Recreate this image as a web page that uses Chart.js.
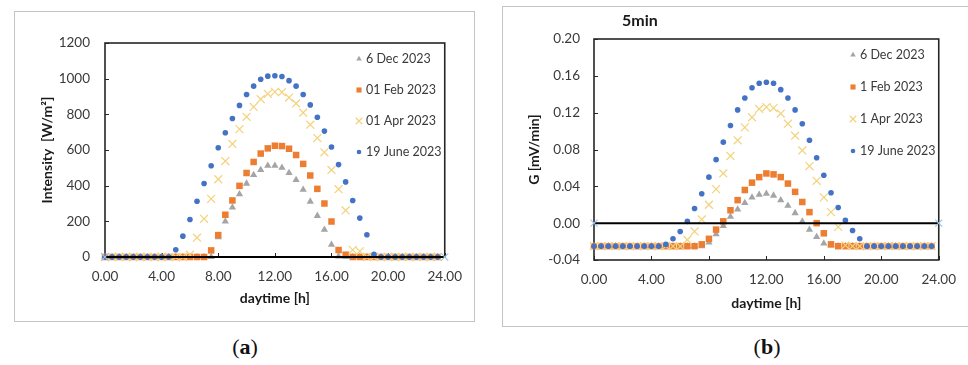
<!DOCTYPE html>
<html>
<head>
<meta charset="utf-8">
<script src="https://cdn.jsdelivr.net/npm/chart.js@4.4.0/dist/chart.umd.min.js"></script>
<style>
  body { margin: 0; width: 968px; height: 365px; background: #fff; position: relative; overflow: hidden; }
  .box { position: absolute; border: 1px solid #c4c4c4; background: #fff; }
  #boxA { left: 14px; top: 11px; width: 459px; height: 309px; }
  #boxB { left: 502px; top: 6px; width: 470px; height: 319px; }
  .cap { position: absolute; top: 334px; width: 80px; text-align: center; line-height: 28px;
         font: 22px "Liberation Serif", serif; color: #111; }
</style>
</head>
<body>
<div class="box" id="boxA"><canvas id="chartIntensity" width="459" height="309"></canvas></div>
<div class="box" id="boxB"><canvas id="chartG" width="465" height="319"></canvas></div>
<div class="cap" style="left:205px">(<b>a</b>)</div>
<div class="cap" style="left:727px">(<b>b</b>)</div>

<script>
// half-hour readings over the day
const hours = [
    0, 0.5, 1, 1.5, 2, 2.5, 3, 3.5, 4, 4.5, 5, 5.5,
    6, 6.5, 7, 7.5, 8, 8.5, 9, 9.5, 10, 10.5, 11, 11.5,
    12, 12.5, 13, 13.5, 14, 14.5, 15, 15.5, 16, 16.5, 17, 17.5,
    18, 18.5, 19, 19.5, 20, 20.5, 21, 21.5, 22, 22.5, 23, 23.5
];

const seriesNamesA = ['6 Dec 2023', '01 Feb 2023', '01 Apr 2023', '19 June 2023'];
const seriesNamesB = ['6 Dec 2023', '1 Feb 2023', '1 Apr 2023', '19 June 2023'];

// irradiance [W/m2]
const intensityDec = [
    0, 0, 0, 0, 0, 0, 0, 0, 0, 0, 0, 0,
    0, 0, 0, 0, 112, 199, 278, 352, 412, 460, 488, 512,
    512, 501, 471, 432, 378, 311, 231, 153, 69, 4, 0, 0,
    0, 0, 0, 0, 0, 0, 0, 0, 0, 0, 0, 0
];
const intensityFeb = [
    0, 0, 0, 0, 0, 0, 0, 0, 0, 0, 0, 0,
    0, 0, 0, 37, 123, 237, 317, 399, 471, 533, 580, 609,
    624, 622, 607, 572, 522, 457, 382, 300, 199, 39, 13, 0,
    0, 0, 0, 0, 0, 0, 0, 0, 0, 0, 0, 0
];
const intensityApr = [
    0, 0, 0, 0, 0, 0, 0, 0, 0, 0, 0, 0,
    13, 108, 214, 326, 436, 538, 634, 717, 786, 842, 885, 915,
    926, 924, 894, 861, 809, 742, 667, 587, 488, 380, 261, 40,
    32, 0, 0, 0, 0, 0, 0, 0, 0, 0, 0, 0
];
const intensityJune = [
    0, 0, 0, 0, 0, 0, 0, 0, 0, 0, 41, 117,
    210, 313, 412, 512, 613, 697, 777, 850, 911, 958, 997, 1014,
    1016, 1012, 989, 958, 911, 853, 784, 706, 617, 518, 421, 317,
    218, 125, 15, 0, 0, 0, 0, 0, 0, 0, 0, 0
];

// sensor gradient G [mV/min], 5 min window
const gDec = [
    -0.025, -0.025, -0.025, -0.025, -0.025, -0.025, -0.025, -0.025, -0.025, -0.025, -0.025, -0.025,
    -0.025, -0.025, -0.025, -0.025, -0.021, -0.012, -0.003, 0.007, 0.015, 0.022, 0.028, 0.031,
    0.032, 0.030, 0.025, 0.019, 0.011, 0.002, -0.007, -0.015, -0.022, -0.024, -0.025, -0.025,
    -0.025, -0.025, -0.025, -0.025, -0.025, -0.025, -0.025, -0.025, -0.025, -0.025, -0.025, -0.025
];
const gFeb = [
    -0.025, -0.025, -0.025, -0.025, -0.025, -0.025, -0.025, -0.025, -0.025, -0.025, -0.025, -0.025,
    -0.025, -0.025, -0.025, -0.023, -0.017, -0.007, 0.002, 0.014, 0.025, 0.036, 0.044, 0.050,
    0.054, 0.053, 0.050, 0.043, 0.034, 0.023, 0.012, 0.000, -0.011, -0.023, -0.025, -0.025,
    -0.025, -0.025, -0.025, -0.025, -0.025, -0.025, -0.025, -0.025, -0.025, -0.025, -0.025, -0.025
];
const gApr = [
    -0.025, -0.025, -0.025, -0.025, -0.025, -0.025, -0.025, -0.025, -0.025, -0.025, -0.025, -0.025,
    -0.025, -0.018, -0.009, 0.004, 0.020, 0.037, 0.054, 0.073, 0.090, 0.104, 0.115, 0.124,
    0.126, 0.125, 0.119, 0.108, 0.095, 0.079, 0.062, 0.046, 0.028, 0.012, -0.004, -0.024,
    -0.025, -0.025, -0.025, -0.025, -0.025, -0.025, -0.025, -0.025, -0.025, -0.025, -0.025, -0.025
];
const gJune = [
    -0.025, -0.025, -0.025, -0.025, -0.025, -0.025, -0.025, -0.025, -0.025, -0.025, -0.023, -0.017,
    -0.009, 0.002, 0.016, 0.032, 0.050, 0.069, 0.088, 0.106, 0.123, 0.136, 0.147, 0.152,
    0.153, 0.152, 0.145, 0.136, 0.123, 0.108, 0.090, 0.071, 0.052, 0.033, 0.017, 0.003,
    -0.008, -0.017, -0.025, -0.025, -0.025, -0.025, -0.025, -0.025, -0.025, -0.025, -0.025, -0.025
];

// zero reference line across the day
const zeroX = [0, 24];
const zeroY = [0, 0];

const xTicks = [0, 4, 8, 12, 16, 20, 24];
const yTicksA = [0, 200, 400, 600, 800, 1000, 1200];
const yTicksB = [-0.04, 0, 0.04, 0.08, 0.12, 0.16, 0.20];

const textColor = '#3a3a3a';
const family = 'Lato, "Open Sans", sans-serif';

const styles = [
    { pointStyle: 'triangle', color: '#a5a5a5', radius: 4.2, legendRadius: 3.2, order: 4 },
    { pointStyle: 'rect', color: '#ed7d31', radius: 4.6, legendRadius: 3.6, order: 3 },
    { pointStyle: 'crossRot', color: '#f3d27c', radius: 5.6, legendRadius: 4.6, order: 2 },
    { pointStyle: 'circle', color: '#4472c4', radius: 2.8, legendRadius: 2.3, order: 1 }
];

function pts(ys) {
    return ys.map((v, i) => ({ x: hours[i], y: v }));
}

function buildSets(names, values) {
    const sets = names.map((name, i) => {
        const s = styles[i];
        const cross = s.pointStyle === 'crossRot';
        return {
            label: name,
            data: pts(values[i]),
            pointStyle: s.pointStyle,
            pointRadius: s.radius,
            backgroundColor: s.color,
            borderColor: s.color,
            pointBorderWidth: cross ? 1.2 : 0,
            showLine: false,
            order: s.order,
            clip: false,
            inLegend: true,
            legendRadius: s.legendRadius
        };
    });
    sets.push({
        label: 'zero',
        data: zeroX.map((x, i) => ({ x: x, y: zeroY[i] })),
        showLine: true,
        borderColor: '#000',
        borderWidth: 2,
        pointStyle: 'crossRot',
        pointRadius: 5,
        pointBorderWidth: 1.1,
        pointBorderColor: '#9dc3e6',
        pointBackgroundColor: '#9dc3e6',
        order: 0,
        clip: false
    });
    return sets;
}

// plot frame, inward tick marks, in-plot legend and optional heading
function decorations(legendX, legendY, rowGap, heading) {
    return {
        id: 'decorations',
        beforeDatasetsDraw(chart) {
            const { ctx, chartArea: a, scales: { x, y } } = chart;
            ctx.save();
            ctx.strokeStyle = '#262626';
            ctx.lineWidth = 1.6;
            ctx.strokeRect(a.left, a.top, a.width, a.height);
            ctx.lineWidth = 1;
            ctx.beginPath();
            x.ticks.forEach(t => {
                const px = Math.round(x.getPixelForValue(t.value)) + 0.5;
                ctx.moveTo(px, a.bottom);
                ctx.lineTo(px, a.bottom - 4);
            });
            y.ticks.forEach(t => {
                const py = Math.round(y.getPixelForValue(t.value)) + 0.5;
                ctx.moveTo(a.left, py);
                ctx.lineTo(a.left + 4, py);
            });
            ctx.stroke();
            ctx.restore();
        },
        afterDraw(chart) {
            const ctx = chart.ctx;
            ctx.save();
            chart.data.datasets.filter(d => d.inLegend).forEach((d, i) => {
                const yy = legendY + i * rowGap;
                ctx.fillStyle = d.backgroundColor;
                ctx.strokeStyle = d.borderColor;
                ctx.lineWidth = d.pointBorderWidth || 1;
                Chart.helpers.drawPoint(ctx, {
                    pointStyle: d.pointStyle,
                    radius: d.legendRadius,
                    borderWidth: d.pointBorderWidth,
                    rotation: 0
                }, legendX, yy);
                ctx.fillStyle = textColor;
                ctx.font = '12.5px ' + family;
                ctx.textBaseline = 'middle';
                ctx.textAlign = 'left';
                ctx.fillText(d.label, legendX + 7, yy);
            });
            if (heading) {
                ctx.fillStyle = '#1a1a1a';
                ctx.font = 'bold 16px ' + family;
                ctx.textBaseline = 'middle';
                ctx.fillText(heading.text, heading.x, heading.y);
            }
            ctx.restore();
        }
    };
}

function makeChart(id, sets, yCfg, pad, axisSizes, plugin) {
    return new Chart(document.getElementById(id), {
        type: 'scatter',
        data: { datasets: sets },
        plugins: [plugin],
        options: {
            responsive: false,
            animation: false,
            layout: { padding: pad },
            plugins: { legend: { display: false }, tooltip: { enabled: false } },
            scales: {
                x: {
                    type: 'linear',
                    min: 0,
                    max: 24,
                    afterBuildTicks: s => { s.ticks = xTicks.map(v => ({ value: v })); },
                    ticks: {
                        callback: v => v.toFixed(2),
                        color: textColor,
                        font: { family: family, size: 13.5 },
                        padding: 12,
                        maxRotation: 0
                    },
                    grid: { display: false, drawTicks: false },
                    border: { display: false },
                    title: {
                        display: true,
                        text: 'daytime [h]',
                        color: '#1a1a1a',
                        font: { family: family, size: 14, weight: 'bold' },
                        padding: { top: 4, bottom: 4 }
                    },
                    afterFit: s => { s.height = axisSizes.x; }
                },
                y: {
                    min: yCfg.min,
                    max: yCfg.max,
                    afterBuildTicks: s => { s.ticks = yCfg.ticks.map(v => ({ value: v })); },
                    ticks: {
                        callback: yCfg.format,
                        color: textColor,
                        font: { family: family, size: 13.5 },
                        padding: yCfg.tickPad
                    },
                    grid: { display: false, drawTicks: false },
                    border: { display: false },
                    title: {
                        display: true,
                        text: yCfg.title,
                        color: '#1a1a1a',
                        font: { family: family, size: 14, weight: 'bold' },
                        padding: { top: 4, bottom: 4 }
                    },
                    afterFit: s => { s.width = axisSizes.y; }
                }
            }
        }
    });
}

makeChart('chartIntensity',
    buildSets(seriesNamesA, [intensityDec, intensityFeb, intensityApr, intensityJune]),
    { min: 0, max: 1200, ticks: yTicksA, format: v => String(v), title: 'Intensity  [W/m²]', tickPad: 15 },
    { left: 20, right: 23, top: 31, bottom: 10 },
    { x: 54, y: 70 },
    decorations(344, 47, 31, null));

makeChart('chartG',
    buildSets(seriesNamesB, [gDec, gFeb, gApr, gJune]),
    { min: -0.04, max: 0.2, ticks: yTicksB, format: v => v.toFixed(2), title: 'G [mV/min]', tickPad: 14 },
    { left: 19, right: 21, top: 32, bottom: 10 },
    { x: 56, y: 72 },
    decorations(350, 48, 32, { text: '5min', x: 119, y: 14 }));
</script>
</body>
</html>
